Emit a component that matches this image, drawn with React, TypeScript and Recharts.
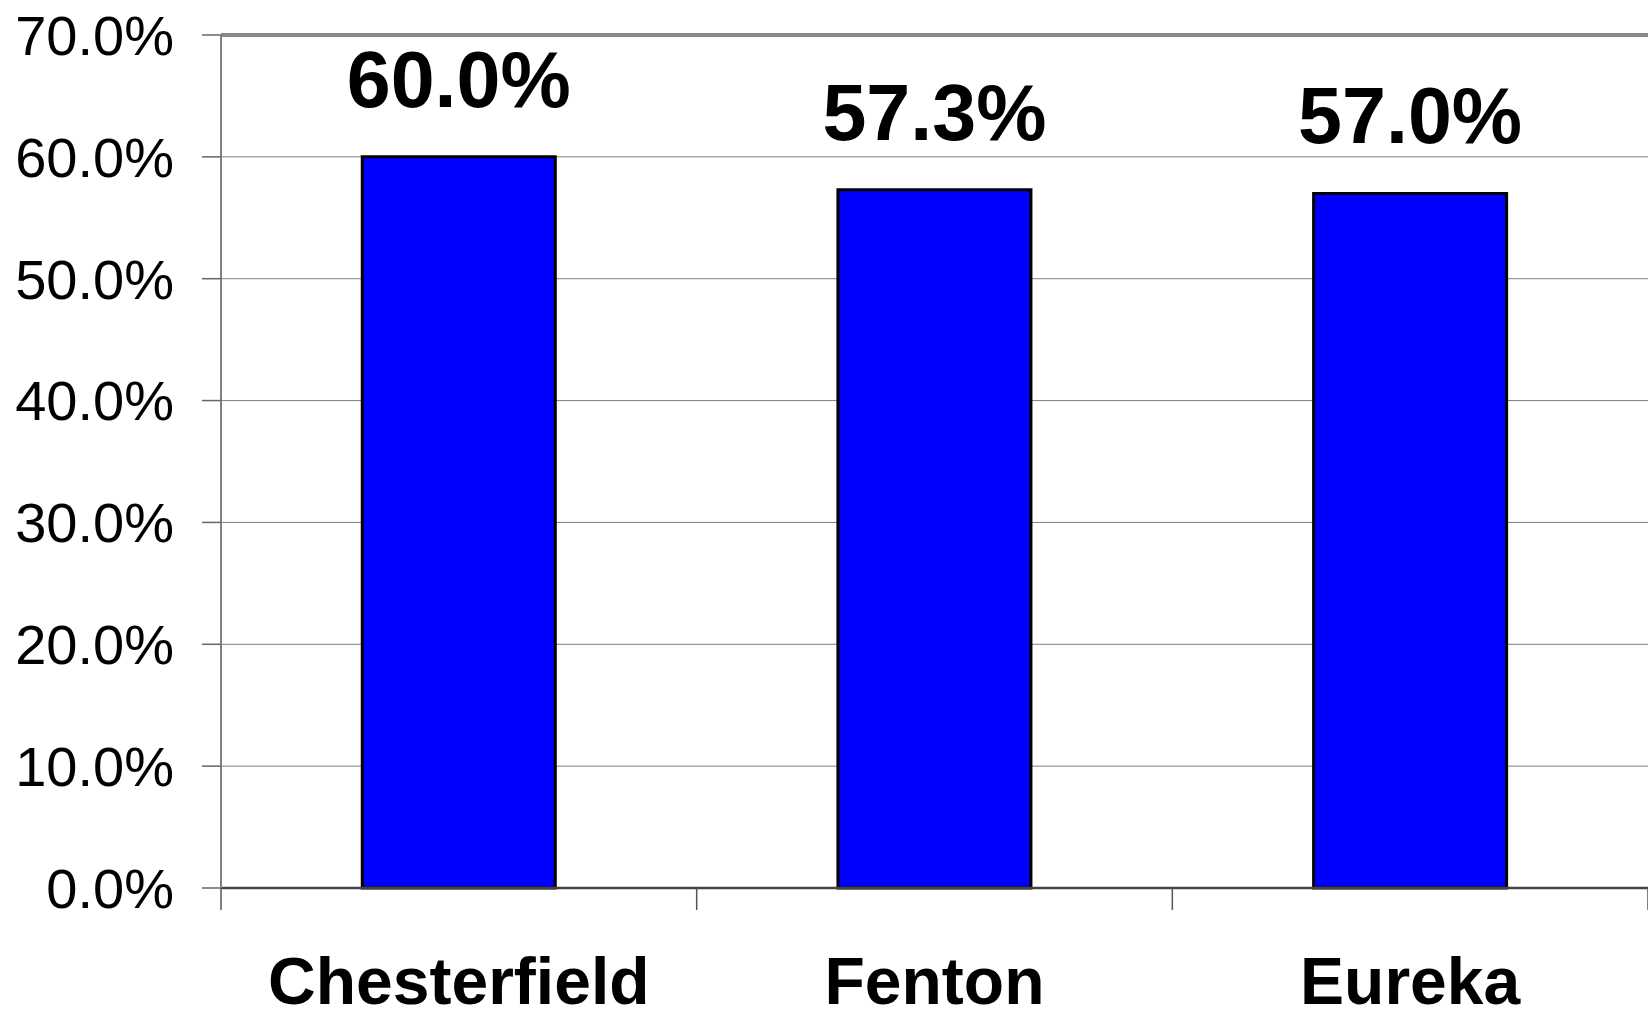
import { BarChart, Bar, XAxis, YAxis, CartesianGrid, ReferenceLine, LabelList } from 'recharts'

// plot values (percent)
const categories = ['Chesterfield', 'Fenton', 'Eureka']
const shares = [60.0, 57.3, 57.0]
const yTicks = [0, 10, 20, 30, 40, 50, 60, 70]

const W = 1648
const H = 1019
const AXIS_W = 221
const band = (W - AXIS_W) / categories.length
const FONT = '"Liberation Sans", Arial, Helvetica, sans-serif'

const data = categories.map((name, i) => ({ name, value: shares[i] }))

function CategoryTick(props: any) {
  const { x, y, payload, index } = props
  const left = x - band / 2
  return (
    <g>
      <line x1={left} y1={y} x2={left} y2={y + 22} stroke="#555" strokeWidth={1.5} />
      {index === categories.length - 1 && (
        <line x1={x + band / 2} y1={y} x2={x + band / 2} y2={y + 22} stroke="#555" strokeWidth={1.5} />
      )}
      <text x={x} y={y + 116} textAnchor="middle" fontFamily={FONT} fontWeight="bold" fontSize={66} fill="#000">
        {payload.value}
      </text>
    </g>
  )
}

function ValueLabel(props: any) {
  const { x, y, width, value } = props
  return (
    <text x={x + width / 2} y={y - 50} textAnchor="middle" fontFamily={FONT} fontWeight="bold" fontSize={79} fill="#000">
      {Number(value).toFixed(1)}%
    </text>
  )
}

export default function App() {
  return (
    <div style={{ position: 'absolute', left: 0, top: 0, background: '#fff' }}>
      <BarChart width={W} height={H} data={data} margin={{ top: 35, right: 0, bottom: 0, left: 0 }} barCategoryGap="29.7%">
        <CartesianGrid horizontal vertical={false} stroke="#7f7f7f" strokeWidth={1} />
        <XAxis
          dataKey="name"
          height={131}
          tickSize={0}
          tickMargin={0}
          tickLine={false}
          axisLine={{ stroke: '#444', strokeWidth: 2.5 }}
          tick={<CategoryTick />}
          interval={0}
        />
        <YAxis
          width={AXIS_W}
          domain={[0, 70]}
          ticks={yTicks}
          interval={0}
          tickSize={19}
          tickMargin={28}
          tickFormatter={(v: number) => `${v.toFixed(1)}%`}
          tick={{ fontSize: 56, fill: '#000', fontFamily: FONT }}
          tickLine={{ stroke: '#666', strokeWidth: 1.5 }}
          axisLine={{ stroke: '#808080', strokeWidth: 2 }}
        />
        <ReferenceLine y={70} stroke="#888" strokeWidth={4} />
        <Bar dataKey="value" fill="#0000FF" stroke="#000" strokeWidth={3} isAnimationActive={false}>
          <LabelList dataKey="value" content={<ValueLabel />} />
        </Bar>
      </BarChart>
    </div>
  )
}
